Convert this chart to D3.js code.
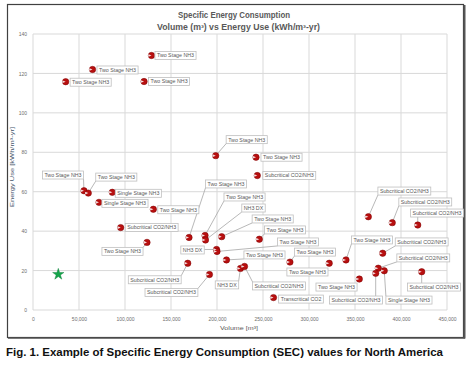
<!DOCTYPE html>
<html><head><meta charset="utf-8">
<script src="https://cdn.jsdelivr.net/npm/d3@7"></script>
<style>body{margin:0;background:#fff}svg{display:block}</style>
</head><body>
<script>
// ---- data ----
const volumes = [128800, 64700, 35500, 120700, 198600, 242400, 243800, 55400, 60100, 86200, 71700, 130800, 95300, 123900, 168200, 191800, 169600, 187000, 187500, 205100, 246000, 199500, 200000, 210300, 225500, 229900, 279300, 322000, 340200, 354700, 261400, 380100, 375300, 372500, 381800, 422500, 364500, 390500, 418200];
const energyUse = [129.1, 122.0, 115.8, 115.9, 78.3, 77.5, 68.2, 60.5, 59.3, 59.7, 54.6, 51.1, 41.8, 34.3, 23.7, 18.0, 36.8, 37.8, 35.5, 37.2, 35.9, 30.7, 29.7, 25.4, 21.1, 22.1, 24.3, 23.7, 25.4, 15.7, 6.3, 28.8, 21.2, 18.6, 19.9, 19.4, 47.3, 44.3, 43.1];
const systemTypes = ["Two Stage NH3","Two Stage NH3","Two Stage NH3","Two Stage NH3","Two Stage NH3","Two Stage NH3","Subcritical CO2/NH3","Two Stage NH3","Two Stage NH3","Single Stage NH3","Single Stage NH3","Two Stage NH3","Subcritical CO2/NH3","Two Stage NH3","Subcritical CO2/NH3","Subcritical CO2/NH3","Two Stage NH3","Two Stage NH3","NH3 DX","Two Stage NH3","Two Stage NH3","NH3 DX","Two Stage NH3","Two Stage NH3","NH3 DX","Subcritical CO2/NH3","Two Stage NH3","Two Stage NH3","Two Stage NH3","Two Stage NH3","Transcritical CO2","Subcritical CO2/NH3","Subcritical CO2/NH3","Subcritical CO2/NH3","Single Stage NH3","Subcritical CO2/NH3","Subcritical CO2/NH3","Subcritical CO2/NH3","Subcritical CO2/NH3"];
const refVolume = [27500];
const refEnergy = [18.1];
const xTicks = [0, 50000, 100000, 150000, 200000, 250000, 300000, 350000, 400000, 450000];
const yTicks = [0, 20, 40, 60, 80, 100, 120, 140];
const titleLines = ["Specific Energy Consumption", "Volume (m\u00B3) vs Energy Use (kWh/m\u00B3-yr)"];
const xTitle = "Volume [m\u00B3]";
const yTitle = "Energy Use [kWh/m\u00B3-yr]";
const caption = "Fig. 1. Example of Specific Energy Consumption (SEC) values for North America";

// ---- layout (label offsets in px, not data) ----
const labelOffsets = [[24,0],[25,0.5],[25,0.5],[25,0],[31,-16],[25.5,0],[32,0],[-21,-15.7],[28,-16],[26,1],[26,1],[25,0.5],[31,0],[-24.5,9],[-33,16.5],[-38,18],[37,-53.5],[39.5,-38.5],[48,-32],[51,-17.7],[25.7,-9.3],[-24,0.5],[81,-9.5],[38,-5],[-13.5,16.5],[34.5,19.5],[25,-10],[-21.8,8.7],[26,-20],[-22.8,8],[27.5,1.5],[39,-11.3],[45,-10.3],[-19.7,26.7],[24.7,29.3],[12.3,15.3],[36,-25.7],[33,-20.7],[19.3,-12]];

const W = 469, H = 365;
const plot = {left: 33, right: 447, top: 34, bottom: 310};
const svg = d3.select("body").append("svg").attr("width", W).attr("height", H)
  .style("font-family", "'Liberation Sans', Arial, sans-serif");

// outer frame
svg.append("rect").attr("x", 7.5).attr("y", 4.5).attr("width", 456).attr("height", 333)
  .attr("fill", "#fff").attr("stroke", "#404040").attr("stroke-width", 1.2);
svg.append("line").attr("x1", 464.5).attr("x2", 464.5).attr("y1", 5).attr("y2", 338.5)
  .attr("stroke", "#555").attr("stroke-width", 2);
svg.append("line").attr("x1", 8).attr("x2", 465).attr("y1", 338.2).attr("y2", 338.2)
  .attr("stroke", "#555").attr("stroke-width", 1.2);

const x = d3.scaleLinear().domain([0, 450000]).range([plot.left, plot.right]);
const y = d3.scaleLinear().domain([0, 140]).range([plot.bottom, plot.top]);

// gridlines
const g = svg.append("g");
g.selectAll(".vg").data(xTicks).join("line")
  .attr("x1", d => x(d)).attr("x2", d => x(d)).attr("y1", plot.top).attr("y2", plot.bottom)
  .attr("stroke", "#d9d9d9").attr("stroke-width", 1);
g.selectAll(".hg").data(yTicks).join("line")
  .attr("x1", plot.left).attr("x2", plot.right).attr("y1", d => y(d)).attr("y2", d => y(d))
  .attr("stroke", "#d9d9d9").attr("stroke-width", 1);

// axes
const fmt = d3.format(",");
const xAxis = svg.append("g").attr("transform", `translate(0,${plot.bottom})`)
  .call(d3.axisBottom(x).tickValues(xTicks).tickFormat(fmt).tickSize(0).tickPadding(7));
const yAxis = svg.append("g").attr("transform", `translate(${plot.left},0)`)
  .call(d3.axisLeft(y).tickValues(yTicks).tickSize(0).tickPadding(6));
[xAxis, yAxis].forEach(a => {
  a.select(".domain").remove();
  a.selectAll("text").attr("fill", "#6e6e6e").style("font-size", "5px")
    .style("font-family", "'Liberation Sans', Arial, sans-serif");
});

// titles
svg.append("text").attr("x", 234).attr("y", 18).attr("text-anchor", "middle")
  .attr("fill", "#595959").style("font-size", "8.5px").style("font-weight", "bold")
  .attr("textLength", 112).attr("lengthAdjust", "spacingAndGlyphs").text(titleLines[0]);
svg.append("text").attr("x", 238.5).attr("y", 30).attr("text-anchor", "middle")
  .attr("fill", "#595959").style("font-size", "8.5px").style("font-weight", "bold")
  .attr("textLength", 163).attr("lengthAdjust", "spacingAndGlyphs").text(titleLines[1]);
svg.append("text").attr("x", 239).attr("y", 329.5).attr("text-anchor", "middle")
  .attr("fill", "#595959").style("font-size", "6px")
  .attr("textLength", 38).attr("lengthAdjust", "spacingAndGlyphs").text(xTitle);
svg.append("text").attr("transform", "translate(14,167) rotate(-90)").attr("text-anchor", "middle")
  .attr("fill", "#44546a").style("font-size", "6px")
  .attr("textLength", 80).attr("lengthAdjust", "spacingAndGlyphs").text(yTitle);
svg.append("text").attr("x", 6).attr("y", 356).attr("fill", "#111")
  .style("font-size", "11px").style("font-weight", "bold")
  .attr("textLength", 437).attr("lengthAdjust", "spacingAndGlyphs").text(caption);

// points data
const pts = volumes.map((v, i) => ({
  px: x(v), py: y(energyUse[i]), label: systemTypes[i],
  lx: x(v) + labelOffsets[i][0], ly: y(energyUse[i]) + labelOffsets[i][1]
}));

// label boxes (measure text first)
const labG = svg.append("g");
const lineG = svg.insertBefore ? null : null;
const leaders = svg.append("g");
const markers = svg.append("g");
const labels = svg.append("g");

pts.forEach(p => {
  const t = labels.append("text").attr("x", p.lx).attr("y", p.ly + 1.9)
    .attr("text-anchor", "middle").attr("fill", "#595959").style("font-size", "5.3px").text(p.label);
  const w = t.node().getComputedTextLength() + 4;
  const h = 8;
  p.bx0 = p.lx - w / 2; p.bx1 = p.lx + w / 2; p.by0 = p.ly - h / 2; p.by1 = p.ly + h / 2;
  labels.insert("rect", "text").attr("x", p.bx0).attr("y", p.by0).attr("width", w).attr("height", h)
    .attr("fill", "#fff").attr("stroke", "#bfbfbf").attr("stroke-width", 0.8);
  // leader line if label is not adjacent
  const cx = Math.max(p.bx0, Math.min(p.px, p.bx1));
  const cy = Math.max(p.by0, Math.min(p.py, p.by1));
  const dist = Math.hypot(cx - p.px, cy - p.py);
  if (dist > 6) {
    leaders.append("line").attr("x1", p.px).attr("y1", p.py).attr("x2", cx).attr("y2", cy)
      .attr("stroke", "#a6a6a6").attr("stroke-width", 0.8);
  }
});
// move labels on top of markers
labels.raise();

// markers
markers.selectAll("circle.m").data(pts).join("circle")
  .attr("cx", d => d.px).attr("cy", d => d.py).attr("r", 3.2)
  .attr("fill", "#b80f0f").attr("stroke", "#7a0000").attr("stroke-width", 0.5);
markers.selectAll("path.hl").data(pts).join("path")
  .attr("d", d => `M${d.px},${d.py} L${d.px - 3},${d.py - 1.3} A3,3 0 0 0 ${d.px - 3},${d.py + 1.3} Z`)
  .attr("fill", "#fff").attr("opacity", 0.85);
markers.raise();
labels.raise();

// reference star
const star = d3.symbol().type(d3.symbolStar).size(40);
svg.append("g").selectAll("path").data(refVolume.map((v, i) => [v, refEnergy[i]])).join("path")
  .attr("d", star).attr("transform", d => `translate(${x(d[0])},${y(d[1])})`)
  .attr("fill", "#13a44a").attr("stroke", "#0b7a35").attr("stroke-width", 0.4);
</script>
</body></html>
